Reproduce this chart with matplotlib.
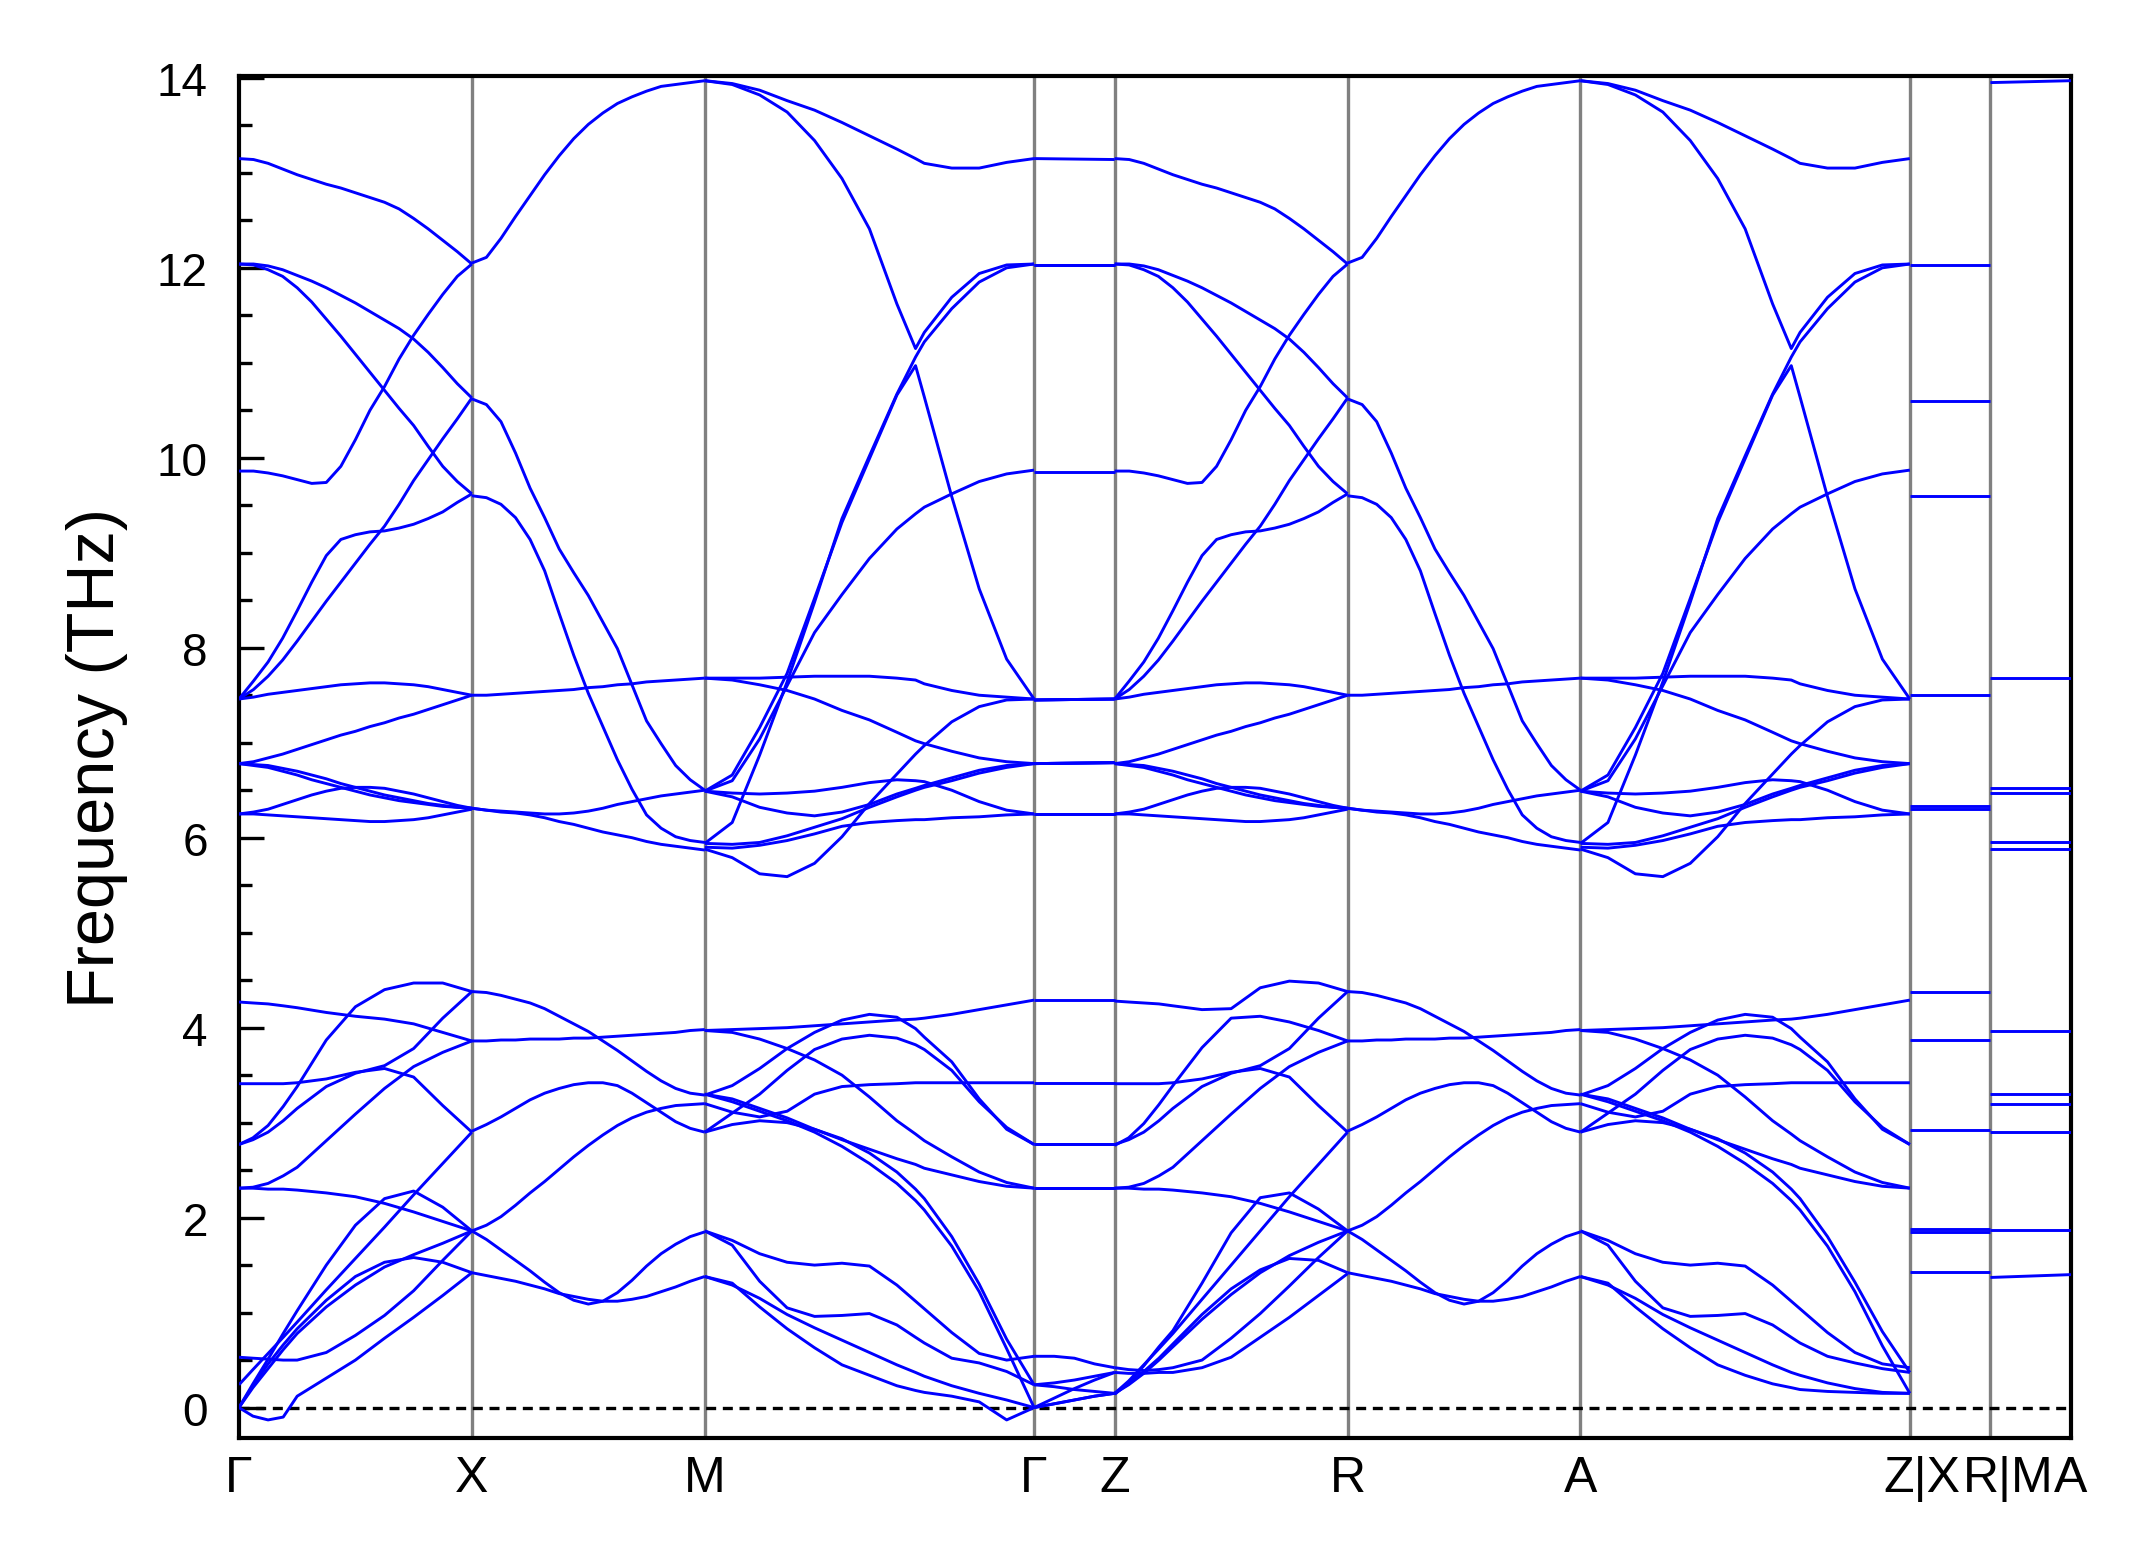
import numpy as np
import matplotlib.pyplot as plt
from matplotlib.ticker import MultipleLocator
from matplotlib.transforms import blended_transform_factory, ScaledTranslation

plt.rcParams['font.family'] = ['Liberation Sans', 'DejaVu Sans']

# path: G-X-M-G-Z-R-A-Z|X-R|M-A, segment lengths (G-X = 1)
seg_len = [1.0, 1.0, 1.414, 0.346, 1.0, 1.0, 1.414, 0.346, 0.346]
tick_labels = ['Γ', 'X', 'M', 'Γ', 'Z', 'R', 'A', 'Z|X', 'R|M', 'A']
label_shift = [0, 0, 0, 0, 0, 0, 0, 0.04, 0.06, 0]   # inches, as in the reference

# ---------------- Gamma - X (upper bands also used for Z - R) ----------------
t_gx_hi = [i / 16 for i in range(17)]
gx_high = [
    [13.15, 13.14, 13.10, 13.04, 12.98, 12.93, 12.88, 12.84, 12.79, 12.74, 12.69, 12.62, 12.52, 12.41, 12.29, 12.17, 12.04],
    [12.04, 12.04, 12.02, 11.98, 11.92, 11.86, 11.79, 11.71, 11.63, 11.54, 11.45, 11.36, 11.25, 11.11, 10.95, 10.78, 10.63],
    [12.04, 12.03, 11.98, 11.91, 11.79, 11.64, 11.46, 11.28, 11.09, 10.90, 10.71, 10.52, 10.34, 10.12, 9.91, 9.75, 9.62],
    [9.86, 9.86, 9.84, 9.81, 9.77, 9.73, 9.74, 9.91, 10.19, 10.50, 10.75, 11.04, 11.29, 11.51, 11.72, 11.91, 12.04],
    [7.46, 7.65, 7.85, 8.10, 8.39, 8.69, 8.97, 9.14, 9.19, 9.22, 9.23, 9.26, 9.30, 9.36, 9.43, 9.53, 9.62],
    [7.46, 7.56, 7.70, 7.87, 8.07, 8.28, 8.49, 8.69, 8.89, 9.09, 9.28, 9.51, 9.76, 9.98, 10.20, 10.41, 10.63],
    [7.46, 7.48, 7.51, 7.53, 7.55, 7.57, 7.59, 7.61, 7.62, 7.63, 7.63, 7.62, 7.61, 7.59, 7.56, 7.53, 7.50],
    [6.78, 6.80, 6.84, 6.88, 6.93, 6.98, 7.03, 7.08, 7.12, 7.17, 7.21, 7.26, 7.30, 7.35, 7.40, 7.45, 7.50],
    [6.78, 6.77, 6.76, 6.73, 6.70, 6.66, 6.62, 6.57, 6.53, 6.49, 6.45, 6.42, 6.39, 6.36, 6.34, 6.32, 6.31],
    [6.78, 6.76, 6.74, 6.70, 6.66, 6.61, 6.57, 6.53, 6.49, 6.45, 6.42, 6.39, 6.37, 6.35, 6.33, 6.32, 6.31],
    [6.25, 6.27, 6.30, 6.35, 6.40, 6.45, 6.49, 6.52, 6.53, 6.53, 6.52, 6.49, 6.46, 6.42, 6.38, 6.34, 6.31],
    [6.25, 6.25, 6.24, 6.23, 6.22, 6.21, 6.20, 6.19, 6.18, 6.17, 6.17, 6.18, 6.19, 6.21, 6.24, 6.27, 6.30],
]

t_gx = [0, 0.06, 0.125, 0.19, 0.25, 0.375, 0.5, 0.625, 0.75, 0.875, 1]
gx_mid = [
    [4.27, 4.26, 4.25, 4.23, 4.21, 4.16, 4.12, 4.09, 4.04, 3.95, 3.86],
    [2.77, 2.84, 2.97, 3.17, 3.38, 3.87, 4.22, 4.40, 4.47, 4.47, 4.38],
    [2.77, 2.82, 2.90, 3.02, 3.15, 3.38, 3.52, 3.60, 3.78, 4.10, 4.38],
    [3.41, 3.41, 3.41, 3.41, 3.42, 3.46, 3.53, 3.57, 3.48, 3.18, 2.90],
    [2.31, 2.32, 2.36, 2.44, 2.53, 2.81, 3.09, 3.36, 3.59, 3.74, 3.86],
    [2.31, 2.31, 2.30, 2.30, 2.29, 2.26, 2.22, 2.15, 2.06, 1.96, 1.86],
]
gx_low = [
    [0.00, 0.25, 0.51, 0.78, 1.02, 1.50, 1.92, 2.20, 2.28, 2.11, 1.86],
    [0.24, 0.40, 0.57, 0.74, 0.90, 1.24, 1.57, 1.90, 2.24, 2.57, 2.90],
    [0.00, 0.21, 0.41, 0.61, 0.78, 1.06, 1.29, 1.48, 1.61, 1.73, 1.86],
    [0.00, 0.23, 0.46, 0.66, 0.83, 1.13, 1.38, 1.53, 1.58, 1.53, 1.42],
    [0.53, 0.52, 0.51, 0.50, 0.50, 0.58, 0.76, 0.97, 1.23, 1.55, 1.86],
    [0.00, -0.09, -0.13, -0.10, 0.12, 0.31, 0.50, 0.73, 0.95, 1.18, 1.42],
]

# ---------------- X - M (also used for R - A) ----------------
t_xm = [i / 16 for i in range(17)]
xm_bands = [
    [12.05, 12.11, 12.31, 12.54, 12.76, 12.98, 13.18, 13.36, 13.51, 13.63, 13.73, 13.80, 13.86, 13.91, 13.93, 13.95, 13.97],
    [10.62, 10.56, 10.38, 10.05, 9.68, 9.37, 9.04, 8.79, 8.55, 8.27, 7.99, 7.61, 7.23, 6.99, 6.76, 6.61, 6.50],
    [9.60, 9.58, 9.51, 9.37, 9.14, 8.81, 8.36, 7.92, 7.52, 7.17, 6.82, 6.51, 6.24, 6.10, 6.01, 5.97, 5.95],
    [7.50, 7.50, 7.51, 7.52, 7.53, 7.54, 7.55, 7.56, 7.58, 7.59, 7.61, 7.62, 7.64, 7.65, 7.66, 7.67, 7.68],
    [6.31, 6.29, 6.28, 6.27, 6.26, 6.25, 6.25, 6.26, 6.28, 6.31, 6.35, 6.38, 6.41, 6.44, 6.46, 6.48, 6.50],
    [6.31, 6.29, 6.27, 6.26, 6.24, 6.21, 6.17, 6.14, 6.10, 6.06, 6.03, 6.00, 5.96, 5.93, 5.91, 5.89, 5.87],
    [4.38, 4.37, 4.34, 4.30, 4.26, 4.20, 4.12, 4.04, 3.96, 3.86, 3.76, 3.65, 3.54, 3.44, 3.36, 3.31, 3.29],
    [3.86, 3.86, 3.87, 3.87, 3.88, 3.88, 3.88, 3.89, 3.89, 3.90, 3.91, 3.92, 3.93, 3.94, 3.95, 3.97, 3.98],
    [2.91, 2.98, 3.06, 3.15, 3.24, 3.31, 3.36, 3.40, 3.42, 3.42, 3.39, 3.31, 3.21, 3.11, 3.01, 2.94, 2.90],
    [1.86, 1.92, 2.01, 2.13, 2.26, 2.38, 2.51, 2.64, 2.76, 2.87, 2.97, 3.05, 3.11, 3.15, 3.18, 3.19, 3.20],
    [1.86, 1.77, 1.66, 1.55, 1.44, 1.32, 1.21, 1.13, 1.09, 1.12, 1.21, 1.34, 1.49, 1.62, 1.72, 1.80, 1.85],
    [1.42, 1.39, 1.36, 1.33, 1.29, 1.25, 1.20, 1.17, 1.14, 1.12, 1.12, 1.14, 1.17, 1.22, 1.27, 1.33, 1.38],
]

# ---------------- M - Gamma (upper part also used for A - Z) ----------------
t_mg = [0, 1/12, 2/12, 3/12, 4/12, 5/12, 6/12, 7/12, 0.64, 8/12, 9/12, 10/12, 11/12, 1]
mg_high = [
    [13.97, 13.94, 13.87, 13.76, 13.66, 13.53, 13.39, 13.25, 13.15, 13.10, 13.05, 13.05, 13.11, 13.15],
    [13.97, 13.93, 13.82, 13.64, 13.34, 12.94, 12.41, 11.62, 11.15, 11.32, 11.69, 11.94, 12.03, 12.04],
    [6.49, 6.66, 7.16, 7.73, 8.52, 9.32, 9.99, 10.66, 10.97, 10.64, 9.59, 8.62, 7.88, 7.46],
    [5.94, 6.16, 6.87, 7.64, 8.48, 9.36, 10.02, 10.67, 11.06, 11.22, 11.57, 11.85, 12.00, 12.04],
    [6.49, 6.60, 7.04, 7.60, 8.16, 8.56, 8.94, 9.25, 9.41, 9.48, 9.62, 9.75, 9.83, 9.87],
    [6.49, 6.47, 6.46, 6.47, 6.49, 6.53, 6.58, 6.61, 6.60, 6.59, 6.50, 6.38, 6.29, 6.25],
    [6.49, 6.43, 6.32, 6.26, 6.23, 6.27, 6.35, 6.46, 6.52, 6.55, 6.63, 6.71, 6.76, 6.78],
    [5.90, 5.89, 5.92, 5.97, 6.04, 6.12, 6.16, 6.18, 6.19, 6.19, 6.21, 6.22, 6.24, 6.25],
    [5.88, 5.79, 5.62, 5.59, 5.73, 6.01, 6.36, 6.67, 6.88, 6.97, 7.22, 7.38, 7.45, 7.46],
    [7.68, 7.68, 7.68, 7.69, 7.70, 7.70, 7.70, 7.68, 7.66, 7.62, 7.55, 7.50, 7.48, 7.46],
    [7.68, 7.66, 7.61, 7.55, 7.46, 7.34, 7.24, 7.11, 7.02, 6.99, 6.91, 6.84, 6.80, 6.78],
    [5.94, 5.93, 5.95, 6.02, 6.11, 6.20, 6.32, 6.43, 6.50, 6.53, 6.60, 6.68, 6.74, 6.78],
]
mg_mid = [
    [3.97, 3.98, 3.99, 4.00, 4.02, 4.04, 4.06, 4.08, 4.09, 4.10, 4.14, 4.19, 4.24, 4.29],
    [3.97, 3.95, 3.88, 3.78, 3.66, 3.50, 3.27, 3.02, 2.88, 2.81, 2.64, 2.48, 2.37, 2.31],
    [3.29, 3.39, 3.57, 3.78, 3.95, 4.08, 4.14, 4.11, 3.99, 3.90, 3.64, 3.25, 2.93, 2.77],
    [2.90, 3.10, 3.30, 3.55, 3.77, 3.88, 3.92, 3.89, 3.82, 3.77, 3.55, 3.22, 2.95, 2.77],
    [3.20, 3.11, 3.06, 3.12, 3.30, 3.38, 3.40, 3.41, 3.42, 3.42, 3.42, 3.42, 3.42, 3.42],
    [3.30, 3.25, 3.15, 3.05, 2.93, 2.82, 2.72, 2.62, 2.56, 2.52, 2.45, 2.38, 2.33, 2.31],
]
mg_low = [
    [2.90, 2.98, 3.02, 3.00, 2.93, 2.83, 2.68, 2.48, 2.30, 2.20, 1.80, 1.30, 0.72, 0.24],
    [3.30, 3.22, 3.12, 3.02, 2.90, 2.75, 2.57, 2.36, 2.18, 2.08, 1.70, 1.22, 0.62, 0.00],
    [1.86, 1.76, 1.62, 1.53, 1.50, 1.52, 1.49, 1.29, 1.12, 1.04, 0.79, 0.57, 0.50, 0.54],
    [1.86, 1.71, 1.33, 1.05, 0.96, 0.97, 0.99, 0.87, 0.74, 0.68, 0.52, 0.47, 0.38, 0.24],
    [1.38, 1.29, 1.15, 0.98, 0.84, 0.71, 0.58, 0.45, 0.37, 0.33, 0.23, 0.15, 0.08, 0.00],
    [1.38, 1.31, 1.06, 0.83, 0.63, 0.45, 0.34, 0.23, 0.18, 0.16, 0.12, 0.06, -0.13, 0.00],
]

# ---------------- Gamma - Z ----------------
gz_flat_start = [13.15, 12.03, 12.03, 9.85, 7.45, 7.45, 7.45, 6.78, 6.78, 6.78, 6.25, 6.25,
                 4.29, 3.42, 2.77, 2.77, 2.31, 2.31]
gz_flat_end = [13.14, 12.03, 12.03, 9.85, 7.46, 7.46, 7.46, 6.79, 6.79, 6.79, 6.25, 6.25,
               4.29, 3.42, 2.77, 2.77, 2.31, 2.31]
t_gz = [0, 0.25, 0.5, 0.75, 1]
gz_low = [
    [0.54, 0.54, 0.52, 0.46, 0.42],
    [0.24, 0.26, 0.29, 0.33, 0.37],
    [0.24, 0.22, 0.19, 0.17, 0.15],
    [0.00, 0.04, 0.08, 0.12, 0.15],
    [0.00, 0.10, 0.20, 0.29, 0.37],
    [0.00, 0.04, 0.08, 0.12, 0.15],
]

# ---------------- Z - R (upper bands as G - X) ----------------
zr_mid = [
    [4.28, 4.27, 4.26, 4.25, 4.23, 4.19, 4.20, 4.42, 4.49, 4.47, 4.38],
    [2.76, 2.84, 2.99, 3.19, 3.39, 3.79, 4.10, 4.12, 4.06, 3.97, 3.86],
    [2.77, 2.82, 2.90, 3.02, 3.15, 3.38, 3.52, 3.60, 3.78, 4.10, 4.38],
    [3.41, 3.41, 3.41, 3.41, 3.42, 3.46, 3.53, 3.57, 3.48, 3.18, 2.90],
    [2.31, 2.32, 2.36, 2.44, 2.53, 2.81, 3.09, 3.36, 3.59, 3.74, 3.86],
    [2.31, 2.31, 2.30, 2.30, 2.29, 2.26, 2.22, 2.15, 2.06, 1.96, 1.86],
]
zr_low = [
    [0.14, 0.26, 0.44, 0.64, 0.81, 1.31, 1.84, 2.21, 2.26, 2.09, 1.86],
    [0.15, 0.28, 0.45, 0.62, 0.78, 1.14, 1.50, 1.86, 2.22, 2.56, 2.90],
    [0.15, 0.24, 0.36, 0.50, 0.64, 0.93, 1.19, 1.42, 1.60, 1.74, 1.86],
    [0.15, 0.25, 0.38, 0.52, 0.67, 0.98, 1.25, 1.45, 1.57, 1.55, 1.42],
    [0.42, 0.40, 0.39, 0.40, 0.42, 0.50, 0.73, 0.99, 1.28, 1.58, 1.86],
    [0.37, 0.36, 0.36, 0.37, 0.37, 0.42, 0.53, 0.74, 0.95, 1.18, 1.41],
]

# ---------------- A - Z low bands ----------------
az_low = [
    [2.90, 2.98, 3.02, 3.00, 2.93, 2.83, 2.68, 2.48, 2.30, 2.20, 1.80, 1.32, 0.80, 0.37],
    [3.30, 3.22, 3.12, 3.02, 2.90, 2.75, 2.57, 2.36, 2.18, 2.08, 1.70, 1.22, 0.65, 0.15],
    [1.86, 1.76, 1.62, 1.53, 1.50, 1.52, 1.49, 1.29, 1.12, 1.04, 0.79, 0.58, 0.46, 0.42],
    [1.86, 1.71, 1.33, 1.05, 0.96, 0.97, 0.99, 0.87, 0.74, 0.68, 0.54, 0.47, 0.41, 0.37],
    [1.38, 1.29, 1.15, 0.98, 0.84, 0.71, 0.58, 0.45, 0.37, 0.34, 0.26, 0.20, 0.16, 0.15],
    [1.38, 1.31, 1.06, 0.83, 0.63, 0.45, 0.34, 0.25, 0.21, 0.19, 0.17, 0.16, 0.15, 0.15],
]

# ---------------- flat segments ----------------
xr_levels = [1.43, 1.85, 1.88, 2.92, 3.87, 4.38, 6.30, 6.33, 7.50, 9.60, 10.60, 12.03]
ma_start = [1.37, 1.87, 2.90, 3.20, 3.30, 3.97, 5.88, 5.95, 6.47, 6.52, 7.68, 13.95]
ma_end = [1.40, 1.87, 2.90, 3.20, 3.30, 3.97, 5.88, 5.95, 6.47, 6.52, 7.68, 13.97]

starts = np.concatenate([[0.0], np.cumsum(seg_len)])

fig = plt.figure(figsize=(7.15, 5.2233), dpi=300)
ax = fig.add_axes([0.1114, 0.0817, 0.8541, 0.8692])


def draw(seg, t, curves):
    x = starts[seg] + np.asarray(t) * seg_len[seg]
    for c in curves:
        ax.plot(x, c, color='#0000ff', lw=0.7, zorder=3, solid_capstyle='butt')


draw(0, t_gx_hi, gx_high)
draw(0, t_gx, gx_mid + gx_low)
draw(1, t_xm, xm_bands)
draw(2, t_mg, mg_high + mg_mid + mg_low)
draw(3, [0, 1], [[a, b] for a, b in zip(gz_flat_start, gz_flat_end)])
draw(3, t_gz, gz_low)
draw(4, t_gx_hi, gx_high)
draw(4, t_gx, zr_mid + zr_low)
draw(5, t_xm, xm_bands)
draw(6, t_mg, mg_high + mg_mid + az_low)
draw(7, [0, 1], [[v, v] for v in xr_levels])
draw(8, [0, 1], [[a, b] for a, b in zip(ma_start, ma_end)])

for xv in starts[1:-1]:
    ax.axvline(xv, color='#808080', lw=0.8, zorder=1)
ax.axhline(0, color='black', lw=0.8, ls=(0, (3, 2)), zorder=2)

ax.set_xlim(starts[0], starts[-1])
ax.set_ylim(-0.32, 14.02)
ax.set_xticks(starts)
ax.set_xticklabels([])
trans = blended_transform_factory(ax.transData, ax.transAxes)
for pos, lab, dx in zip(starts, tick_labels, label_shift):
    ax.text(pos, 0, lab, ha='center', va='top', fontsize=12,
            transform=trans + ScaledTranslation(dx, -4 / 72, fig.dpi_scale_trans))

ax.yaxis.set_major_locator(MultipleLocator(2))
ax.yaxis.set_minor_locator(MultipleLocator(0.5))
ax.tick_params(axis='y', which='major', direction='in', length=6, width=0.8, labelsize=11, pad=7.5)
ax.tick_params(axis='y', which='minor', direction='in', length=3, width=0.8)
ax.tick_params(axis='x', length=0)
for s in ax.spines.values():
    s.set_linewidth(1.0)
ax.set_ylabel('Frequency (THz)', fontsize=16, labelpad=7)

fig.savefig('out.png', dpi=300)
